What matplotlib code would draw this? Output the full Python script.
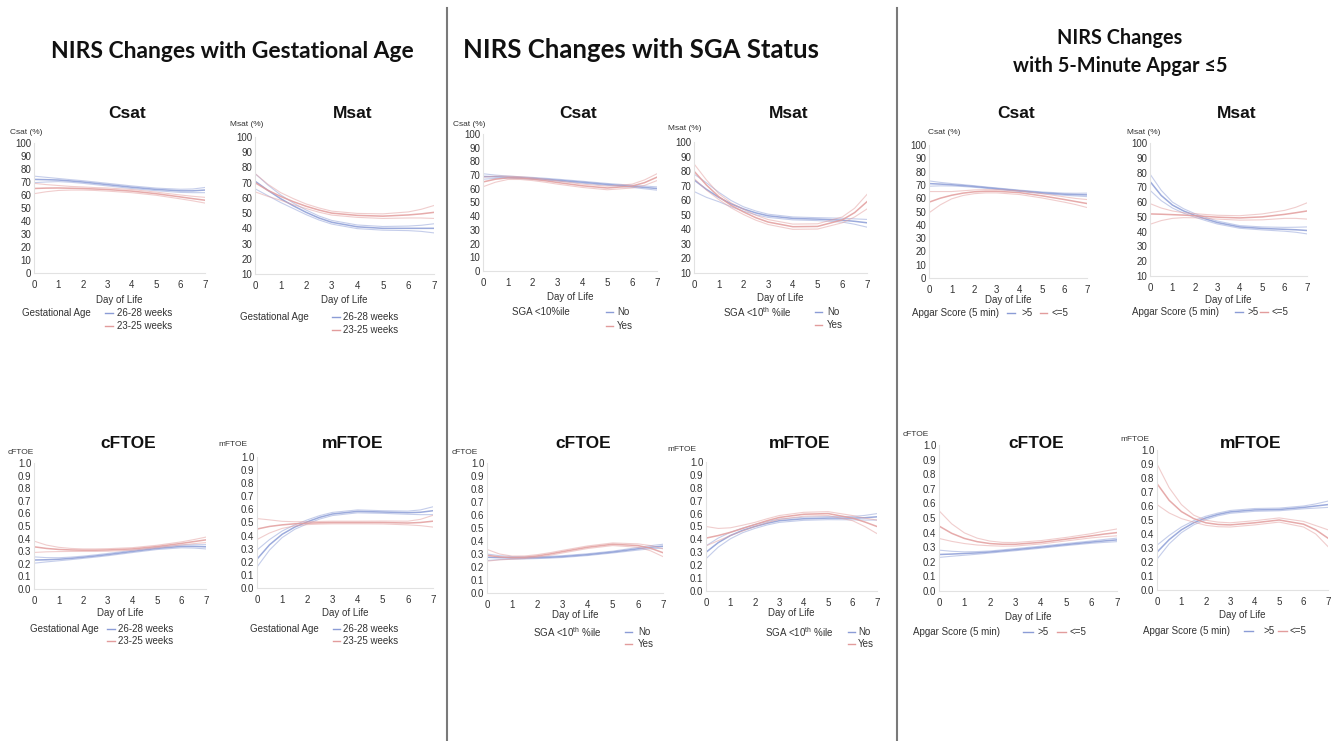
import matplotlib
matplotlib.use('Agg')
import matplotlib.pyplot as plt
from matplotlib.lines import Line2D

plt.rcParams['font.family'] = ['Liberation Sans', 'DejaVu Sans']
plt.rcParams['mathtext.fontset'] = 'custom'
plt.rcParams['mathtext.rm'] = 'Liberation Sans'

# ---------------- data ----------------
DAYS = [0, 0.5, 1, 1.5, 2, 2.5, 3, 4, 5, 6, 6.5, 7]

GA_GROUPS = ['26-28 weeks', '23-25 weeks']
SGA_GROUPS = ['No', 'Yes']
APGAR_GROUPS = ['>5', '<=5']

# Gestational age - Csat
ga_csat_b_mean = [72, 71.8, 71.5, 70.8, 70, 69, 68, 66, 64.3, 63.2, 63.2, 63.8]
ga_csat_b_lo = [69.5, 70, 70.3, 69.8, 69, 68, 67, 65, 63.3, 62, 61.8, 61.8]
ga_csat_b_hi = [74.5, 73.6, 72.7, 71.8, 71, 70, 69, 67, 65.3, 64.4, 64.6, 65.8]
ga_csat_r_mean = [65, 65.3, 65.4, 65.2, 65, 64.6, 64.2, 63, 61, 58.5, 57.2, 56]
ga_csat_r_lo = [61, 62.5, 63.5, 63.8, 63.8, 63.5, 63, 61.8, 59.8, 57, 55.5, 53.8]
ga_csat_r_hi = [69, 68, 67.3, 66.6, 66.2, 65.7, 65.4, 64.2, 62.2, 60, 59, 58.2]

# Gestational age - Msat
ga_msat_b_mean = [71, 65, 59.5, 54.8, 50.5, 46.8, 44, 41, 40, 40, 40, 40]
ga_msat_b_lo = [66, 61.5, 57, 53, 49, 45.5, 42.8, 39.8, 38.8, 38.5, 38, 37]
ga_msat_b_hi = [76, 68.5, 62, 56.6, 52, 48.1, 45.2, 42.2, 41.2, 41.5, 42, 43]
ga_msat_r_mean = [70, 65, 61, 57.5, 54.5, 52, 50, 48.5, 48, 48.8, 49.5, 50.5]
ga_msat_r_lo = [64, 61, 58.5, 55.5, 53, 50.6, 48.7, 47.2, 46.5, 46.8, 46.8, 46.5]
ga_msat_r_hi = [76, 69, 63.5, 59.5, 56, 53.4, 51.3, 49.8, 49.5, 50.8, 52.5, 55]

# SGA - Csat
sga_csat_b_mean = [69, 68.8, 68.5, 68.1, 67.6, 67, 66.3, 64.8, 63.2, 61.8, 61, 60.2]
sga_csat_b_lo = [67, 67.6, 67.7, 67.4, 66.9, 66.3, 65.6, 64.1, 62.5, 61, 60, 59]
sga_csat_b_hi = [71, 70, 69.3, 68.8, 68.3, 67.7, 67, 65.5, 63.9, 62.6, 62, 61.4]
sga_csat_r_mean = [65, 67, 68, 67.8, 67, 65.9, 64.6, 62.2, 60.6, 62, 64.5, 68.5]
sga_csat_r_lo = [61.5, 64.8, 66.8, 66.8, 66, 64.8, 63.4, 61, 59.3, 60.6, 62.5, 66]
sga_csat_r_hi = [68.5, 69.2, 69.2, 68.8, 68, 67, 65.8, 63.4, 61.9, 63.4, 66.5, 71]

# SGA - Msat
sga_msat_b_mean = [74, 67.5, 62, 57.5, 54, 51.3, 49.3, 47.5, 47, 46.3, 45.5, 44.5]
sga_msat_b_lo = [66, 62, 59, 55.5, 52.5, 50, 48.2, 46.5, 46, 45, 43.5, 41.5]
sga_msat_b_hi = [78, 72, 65.5, 59.8, 55.5, 52.6, 50.4, 48.5, 48, 47.6, 47.2, 46.8]
sga_msat_r_mean = [80, 70.5, 62.5, 56.5, 52, 48, 45, 41.8, 42, 46.5, 51.5, 59]
sga_msat_r_lo = [75, 67, 60.5, 54.8, 50.2, 46.3, 43.3, 40, 40.2, 44.5, 48.5, 54]
sga_msat_r_hi = [85, 74, 64.5, 58.2, 53.8, 49.7, 46.7, 43.6, 43.8, 48.5, 54.5, 64]

# Apgar - Csat
ap_csat_b_mean = [71, 70.6, 70.1, 69.5, 68.8, 68, 67.2, 65.6, 64.1, 63, 62.7, 62.5]
ap_csat_b_lo = [69, 69.3, 69.2, 68.8, 68.2, 67.5, 66.7, 65.1, 63.5, 62.2, 61.7, 61.2]
ap_csat_b_hi = [73, 71.9, 71, 70.2, 69.4, 68.5, 67.7, 66.1, 64.7, 63.8, 63.7, 63.8]
ap_csat_r_mean = [57, 60, 62.2, 63.8, 64.8, 65.2, 65.2, 64.2, 61.8, 59, 57.5, 56]
ap_csat_r_lo = [49, 55, 59.5, 62, 63.4, 64, 64, 62.8, 60.2, 57, 55.2, 53]
ap_csat_r_hi = [65, 65, 65, 65.6, 66.2, 66.4, 66.4, 65.6, 63.4, 61, 59.8, 59]

# Apgar - Msat
ap_msat_b_mean = [74, 64.5, 58, 54, 51, 48.5, 46.2, 43.2, 42.2, 41.6, 41.3, 40.8]
ap_msat_b_lo = [68, 61, 56, 52.5, 49.8, 47.4, 45.2, 42.3, 41.2, 40.3, 39.6, 38.5]
ap_msat_b_hi = [79, 68, 60, 55.5, 52.2, 49.6, 47.2, 44.1, 43.2, 42.9, 43, 43.2]
ap_msat_r_mean = [52, 51.8, 51.5, 51.2, 50.8, 50.3, 49.8, 49.3, 50, 51.7, 52.8, 54]
ap_msat_r_lo = [45, 47.5, 49, 49.5, 49.4, 49, 48.5, 47.8, 48, 49, 49, 48.5]
ap_msat_r_hi = [59, 56, 54, 52.8, 52.2, 51.6, 51.1, 50.8, 52, 54.4, 56.5, 59.5]

# Gestational age - cFTOE
ga_cftoe_b_mean = [0.23, 0.232, 0.236, 0.243, 0.252, 0.262, 0.273, 0.298, 0.322, 0.338, 0.338, 0.335]
ga_cftoe_b_lo = [0.205, 0.215, 0.224, 0.233, 0.243, 0.253, 0.264, 0.289, 0.313, 0.327, 0.325, 0.318]
ga_cftoe_b_hi = [0.255, 0.249, 0.248, 0.253, 0.261, 0.271, 0.282, 0.307, 0.331, 0.349, 0.351, 0.352]
ga_cftoe_r_mean = [0.335, 0.322, 0.314, 0.31, 0.308, 0.308, 0.31, 0.318, 0.337, 0.362, 0.376, 0.39]
ga_cftoe_r_lo = [0.29, 0.295, 0.297, 0.298, 0.298, 0.298, 0.3, 0.308, 0.327, 0.35, 0.36, 0.368]
ga_cftoe_r_hi = [0.38, 0.349, 0.331, 0.322, 0.318, 0.318, 0.32, 0.328, 0.347, 0.374, 0.392, 0.412]

# Gestational age - mFTOE
ga_mftoe_b_mean = [0.22, 0.33, 0.41, 0.465, 0.505, 0.54, 0.565, 0.585, 0.58, 0.575, 0.578, 0.59]
ga_mftoe_b_lo = [0.16, 0.29, 0.385, 0.448, 0.49, 0.527, 0.553, 0.574, 0.57, 0.563, 0.56, 0.56]
ga_mftoe_b_hi = [0.29, 0.37, 0.435, 0.482, 0.52, 0.553, 0.577, 0.596, 0.59, 0.587, 0.596, 0.62]
ga_mftoe_r_mean = [0.45, 0.47, 0.482, 0.49, 0.495, 0.498, 0.5, 0.5, 0.5, 0.496, 0.5, 0.51]
ga_mftoe_r_lo = [0.37, 0.42, 0.455, 0.474, 0.484, 0.488, 0.49, 0.49, 0.489, 0.482, 0.476, 0.465]
ga_mftoe_r_hi = [0.53, 0.52, 0.509, 0.506, 0.506, 0.508, 0.51, 0.51, 0.511, 0.51, 0.524, 0.555]

# SGA - cFTOE
sga_cftoe_b_mean = [0.275, 0.272, 0.27, 0.27, 0.272, 0.275, 0.28, 0.295, 0.315, 0.34, 0.352, 0.36]
sga_cftoe_b_lo = [0.25, 0.257, 0.26, 0.262, 0.265, 0.268, 0.273, 0.288, 0.308, 0.33, 0.34, 0.345]
sga_cftoe_b_hi = [0.3, 0.287, 0.28, 0.278, 0.279, 0.282, 0.287, 0.302, 0.322, 0.35, 0.364, 0.375]
sga_cftoe_r_mean = [0.29, 0.278, 0.272, 0.275, 0.285, 0.3, 0.318, 0.352, 0.375, 0.365, 0.345, 0.31]
sga_cftoe_r_lo = [0.245, 0.255, 0.26, 0.265, 0.275, 0.29, 0.308, 0.342, 0.365, 0.352, 0.325, 0.28]
sga_cftoe_r_hi = [0.335, 0.3, 0.284, 0.285, 0.295, 0.31, 0.328, 0.362, 0.385, 0.378, 0.365, 0.34]

# SGA - mFTOE
sga_mftoe_b_mean = [0.3, 0.375, 0.43, 0.47, 0.5, 0.525, 0.545, 0.56, 0.565, 0.565, 0.568, 0.575]
sga_mftoe_b_lo = [0.25, 0.34, 0.405, 0.452, 0.485, 0.512, 0.532, 0.548, 0.553, 0.552, 0.55, 0.55]
sga_mftoe_b_hi = [0.35, 0.41, 0.455, 0.488, 0.515, 0.538, 0.558, 0.572, 0.577, 0.578, 0.586, 0.6]
sga_mftoe_r_mean = [0.41, 0.43, 0.455, 0.485, 0.515, 0.545, 0.57, 0.595, 0.6, 0.565, 0.535, 0.5]
sga_mftoe_r_lo = [0.35, 0.39, 0.43, 0.465, 0.5, 0.53, 0.555, 0.58, 0.585, 0.545, 0.5, 0.445]
sga_mftoe_r_hi = [0.5, 0.485, 0.49, 0.51, 0.532, 0.56, 0.585, 0.61, 0.615, 0.585, 0.565, 0.55]

# Apgar - cFTOE
ap_cftoe_b_mean = [0.25, 0.253, 0.257, 0.261, 0.267, 0.275, 0.283, 0.3, 0.318, 0.335, 0.343, 0.35]
ap_cftoe_b_lo = [0.23, 0.238, 0.245, 0.252, 0.26, 0.268, 0.276, 0.293, 0.311, 0.327, 0.333, 0.338]
ap_cftoe_b_hi = [0.28, 0.272, 0.268, 0.27, 0.274, 0.282, 0.29, 0.307, 0.325, 0.343, 0.353, 0.362]
ap_cftoe_r_mean = [0.445, 0.395, 0.36, 0.338, 0.325, 0.32, 0.32, 0.333, 0.355, 0.378, 0.39, 0.4]
ap_cftoe_r_lo = [0.36, 0.34, 0.325, 0.315, 0.31, 0.307, 0.308, 0.322, 0.343, 0.364, 0.372, 0.378]
ap_cftoe_r_hi = [0.55, 0.46, 0.398, 0.362, 0.342, 0.333, 0.332, 0.345, 0.367, 0.393, 0.41, 0.425]

# Apgar - mFTOE
ap_mftoe_b_mean = [0.27, 0.36, 0.43, 0.48, 0.515, 0.54, 0.558, 0.572, 0.575, 0.59, 0.6, 0.61]
ap_mftoe_b_lo = [0.22, 0.33, 0.41, 0.465, 0.503, 0.53, 0.548, 0.562, 0.566, 0.58, 0.585, 0.59]
ap_mftoe_b_hi = [0.32, 0.39, 0.45, 0.495, 0.527, 0.55, 0.568, 0.582, 0.585, 0.6, 0.615, 0.635]
ap_mftoe_r_mean = [0.76, 0.64, 0.56, 0.51, 0.48, 0.468, 0.465, 0.48, 0.5, 0.47, 0.43, 0.37]
ap_mftoe_r_lo = [0.61, 0.55, 0.51, 0.485, 0.462, 0.452, 0.45, 0.465, 0.485, 0.45, 0.4, 0.31]
ap_mftoe_r_hi = [0.9, 0.73, 0.61, 0.535, 0.498, 0.485, 0.48, 0.495, 0.515, 0.49, 0.46, 0.43]

SAT_TICKS = list(range(0, 101, 10))
MSAT_TICKS = list(range(10, 101, 10))
FTOE_TICKS = [i / 10 for i in range(11)]
X_TICKS = list(range(8))

GROUP_TITLES = ['NIRS Changes with Gestational Age', 'NIRS Changes with SGA Status',
                'NIRS Changes\nwith 5-Minute Apgar \u22645']

# ---------------- layout ----------------
W, H = 1342, 741
fig = plt.figure(figsize=(W / 100, H / 100), dpi=100)
fig.patch.set_facecolor('white')

BLUE = '#8b9cd6'
RED = '#e29c9c'
TXT = '#333333'


def fx(x):
    return x / W


def fy(y):
    return 1 - y / H


SGA10 = 'SGA <10$^{\\mathrm{th}}$ %ile'

panels = [
    dict(box=(34, 205, 143, 273), ticks=SAT_TICKS, fmt='{:d}', ylab='Csat (%)', ylxy=(10, 133),
         title='Csat', xly=300, data=(ga_csat_b_mean, ga_csat_b_lo, ga_csat_b_hi, ga_csat_r_mean, ga_csat_r_lo, ga_csat_r_hi),
         groups=GA_GROUPS, leg=('stack', 'Gestational Age', 22, (105, 113, 117), (313, 326))),
    dict(box=(255, 434, 137, 274), ticks=MSAT_TICKS, fmt='{:d}', ylab='Msat (%)', ylxy=(230, 124),
         title='Msat', xly=300, data=(ga_msat_b_mean, ga_msat_b_lo, ga_msat_b_hi, ga_msat_r_mean, ga_msat_r_lo, ga_msat_r_hi),
         groups=GA_GROUPS, leg=('stack', 'Gestational Age', 240, (332, 340, 343), (317, 330))),
    dict(box=(483, 657, 134, 271), ticks=SAT_TICKS, fmt='{:d}', ylab='Csat (%)', ylxy=(453, 125),
         title='Csat', xly=297, data=(sga_csat_b_mean, sga_csat_b_lo, sga_csat_b_hi, sga_csat_r_mean, sga_csat_r_lo, sga_csat_r_hi),
         groups=SGA_GROUPS, leg=('stack', 'SGA <10%ile', 512, (606, 613, 617), (312, 326))),
    dict(box=(694, 867, 142, 273), ticks=MSAT_TICKS, fmt='{:d}', ylab='Msat (%)', ylxy=(668, 128),
         title='Msat', xly=298, data=(sga_msat_b_mean, sga_msat_b_lo, sga_msat_b_hi, sga_msat_r_mean, sga_msat_r_lo, sga_msat_r_hi),
         groups=SGA_GROUPS, leg=('stack', SGA10, 723, (815, 822, 827), (312, 325))),
    dict(box=(929, 1087, 145, 278), ticks=SAT_TICKS, fmt='{:d}', ylab='Csat (%)', ylxy=(928, 133),
         title='Csat', xly=300, data=(ap_csat_b_mean, ap_csat_b_lo, ap_csat_b_hi, ap_csat_r_mean, ap_csat_r_lo, ap_csat_r_hi),
         groups=APGAR_GROUPS, leg=('row', 'Apgar Score (5 min)', 912, (1007, 1015, 1021, 1040, 1047, 1051), (313,))),
    dict(box=(1150, 1307, 143, 276), ticks=MSAT_TICKS, fmt='{:d}', ylab='Msat (%)', ylxy=(1127, 132),
         title='Msat', xly=300, data=(ap_msat_b_mean, ap_msat_b_lo, ap_msat_b_hi, ap_msat_r_mean, ap_msat_r_lo, ap_msat_r_hi),
         groups=APGAR_GROUPS, leg=('row', 'Apgar Score (5 min)', 1132, (1235, 1243, 1247, 1260, 1268, 1272), (312,))),
    dict(box=(34, 206, 463, 589), ticks=FTOE_TICKS, fmt='{:.1f}', ylab='cFTOE', ylxy=(8, 452),
         title='cFTOE', xly=613, data=(ga_cftoe_b_mean, ga_cftoe_b_lo, ga_cftoe_b_hi, ga_cftoe_r_mean, ga_cftoe_r_lo, ga_cftoe_r_hi),
         groups=GA_GROUPS, leg=('stack', 'Gestational Age', 30, (107, 115, 118), (629, 641))),
    dict(box=(257, 433, 457, 588), ticks=FTOE_TICKS, fmt='{:.1f}', ylab='mFTOE', ylxy=(218, 445),
         title='mFTOE', xly=613, data=(ga_mftoe_b_mean, ga_mftoe_b_lo, ga_mftoe_b_hi, ga_mftoe_r_mean, ga_mftoe_r_lo, ga_mftoe_r_hi),
         groups=GA_GROUPS, leg=('stack', 'Gestational Age', 250, (333, 340, 343), (629, 641))),
    dict(box=(487, 663, 463, 593), ticks=FTOE_TICKS, fmt='{:.1f}', ylab='cFTOE', ylxy=(452, 452),
         title='cFTOE', xly=615, data=(sga_cftoe_b_mean, sga_cftoe_b_lo, sga_cftoe_b_hi, sga_cftoe_r_mean, sga_cftoe_r_lo, sga_cftoe_r_hi),
         groups=SGA_GROUPS, leg=('stack', SGA10, 533, (625, 632, 638), (632, 644))),
    dict(box=(706, 877, 462, 591), ticks=FTOE_TICKS, fmt='{:.1f}', ylab='mFTOE', ylxy=(667, 450),
         title='mFTOE', xly=613, data=(sga_mftoe_b_mean, sga_mftoe_b_lo, sga_mftoe_b_hi, sga_mftoe_r_mean, sga_mftoe_r_lo, sga_mftoe_r_hi),
         groups=SGA_GROUPS, leg=('stack', SGA10, 765, (848, 855, 858), (632, 644))),
    dict(box=(939, 1117, 445, 591), ticks=FTOE_TICKS, fmt='{:.1f}', ylab='cFTOE', ylxy=(903, 435),
         title='cFTOE', xly=617, data=(ap_cftoe_b_mean, ap_cftoe_b_lo, ap_cftoe_b_hi, ap_cftoe_r_mean, ap_cftoe_r_lo, ap_cftoe_r_hi),
         groups=APGAR_GROUPS, leg=('row', 'Apgar Score (5 min)', 913, (1023, 1033, 1037, 1057, 1066, 1069), (632,))),
    dict(box=(1157, 1328, 450, 590), ticks=FTOE_TICKS, fmt='{:.1f}', ylab='mFTOE', ylxy=(1120, 439),
         title='mFTOE', xly=615, data=(ap_mftoe_b_mean, ap_mftoe_b_lo, ap_mftoe_b_hi, ap_mftoe_r_mean, ap_mftoe_r_lo, ap_mftoe_r_hi),
         groups=APGAR_GROUPS, leg=('row', 'Apgar Score (5 min)', 1143, (1244, 1253, 1263, 1278, 1287, 1290), (631,))),
]

title_y = {True: 114, False: 443}

for i, p in enumerate(panels):
    x0, x7, yt, yb = p['box']
    ax = fig.add_axes([fx(x0), fy(yb), (x7 - x0) / W, (yb - yt) / H])
    bm, bl, bh, rm, rl, rh = p['data']
    for arr in (bl, bh):
        ax.plot(DAYS, arr, color=BLUE, lw=0.8, alpha=0.5)
    ax.plot(DAYS, bm, color=BLUE, lw=1.1, alpha=0.85)
    for arr in (rl, rh):
        ax.plot(DAYS, arr, color=RED, lw=0.8, alpha=0.5)
    ax.plot(DAYS, rm, color=RED, lw=1.1, alpha=0.85)
    ticks = p['ticks']
    ax.set_xlim(0, 7)
    ax.set_ylim(ticks[0], ticks[-1])
    ax.set_xticks(X_TICKS)
    ax.set_yticks(ticks)
    ax.set_yticklabels([p['fmt'].format(t) for t in ticks])
    for s in ('top', 'right'):
        ax.spines[s].set_visible(False)
    for s in ('left', 'bottom'):
        ax.spines[s].set_color('#e2e2e2')
        ax.spines[s].set_linewidth(0.8)
    ax.tick_params(axis='both', length=0, labelsize=7, colors=TXT)
    ax.tick_params(axis='y', pad=2)
    ax.tick_params(axis='x', pad=5)
    ax.set_facecolor('none')

    top = i < 6
    fig.text(fx((x0 + x7) / 2 + 8), fy(title_y[top]), p['title'], ha='center', va='center',
             fontsize=12.5, fontweight='bold', color='#111111')
    fig.text(fx(p['ylxy'][0]), fy(p['ylxy'][1]), p['ylab'], ha='left', va='center', fontsize=6, color=TXT)
    fig.text(fx((x0 + x7) / 2), fy(p['xly']), 'Day of Life', ha='center', va='center', fontsize=7, color=TXT)

    kind, ltitle, ltx, lx, ly = p['leg']
    fig.text(fx(ltx), fy(ly[0]), ltitle, ha='left', va='center', fontsize=7, color=TXT)
    g1, g2 = p['groups']
    if kind == 'stack':
        for (y, lab, col) in ((ly[0], g1, BLUE), (ly[1], g2, RED)):
            fig.add_artist(Line2D([fx(lx[0]), fx(lx[1])], [fy(y), fy(y)], color=col, lw=1.0,
                                  transform=fig.transFigure))
            fig.text(fx(lx[2]), fy(y), lab, ha='left', va='center', fontsize=7, color=TXT)
    else:
        y = ly[0]
        fig.add_artist(Line2D([fx(lx[0]), fx(lx[1])], [fy(y), fy(y)], color=BLUE, lw=1.0,
                              transform=fig.transFigure))
        fig.text(fx(lx[2]), fy(y), g1, ha='left', va='center', fontsize=7, color=TXT)
        fig.add_artist(Line2D([fx(lx[3]), fx(lx[4])], [fy(y), fy(y)], color=RED, lw=1.0,
                              transform=fig.transFigure))
        fig.text(fx(lx[5]), fy(y), g2, ha='left', va='center', fontsize=7, color=TXT)

# group titles
tfam = ['Lato', 'DejaVu Sans']
fig.text(fx(232), fy(52), GROUP_TITLES[0], ha='center', va='center', fontsize=16.5,
         fontweight='bold', family=tfam, color='#111111')
fig.text(fx(641), fy(50), GROUP_TITLES[1], ha='center', va='center', fontsize=18.5,
         fontweight='bold', family=tfam, color='#111111')
fig.text(fx(1120), fy(52), GROUP_TITLES[2], ha='center', va='center', fontsize=14.3,
         fontweight='bold', family=tfam, color='#111111', linespacing=1.55)

# separators
for xs in (447, 897):
    fig.add_artist(Line2D([fx(xs), fx(xs)], [fy(8), fy(741)], color='#7a7a7a', lw=1.5,
                          transform=fig.transFigure))

fig.savefig('out.png', dpi=100, facecolor='white')
